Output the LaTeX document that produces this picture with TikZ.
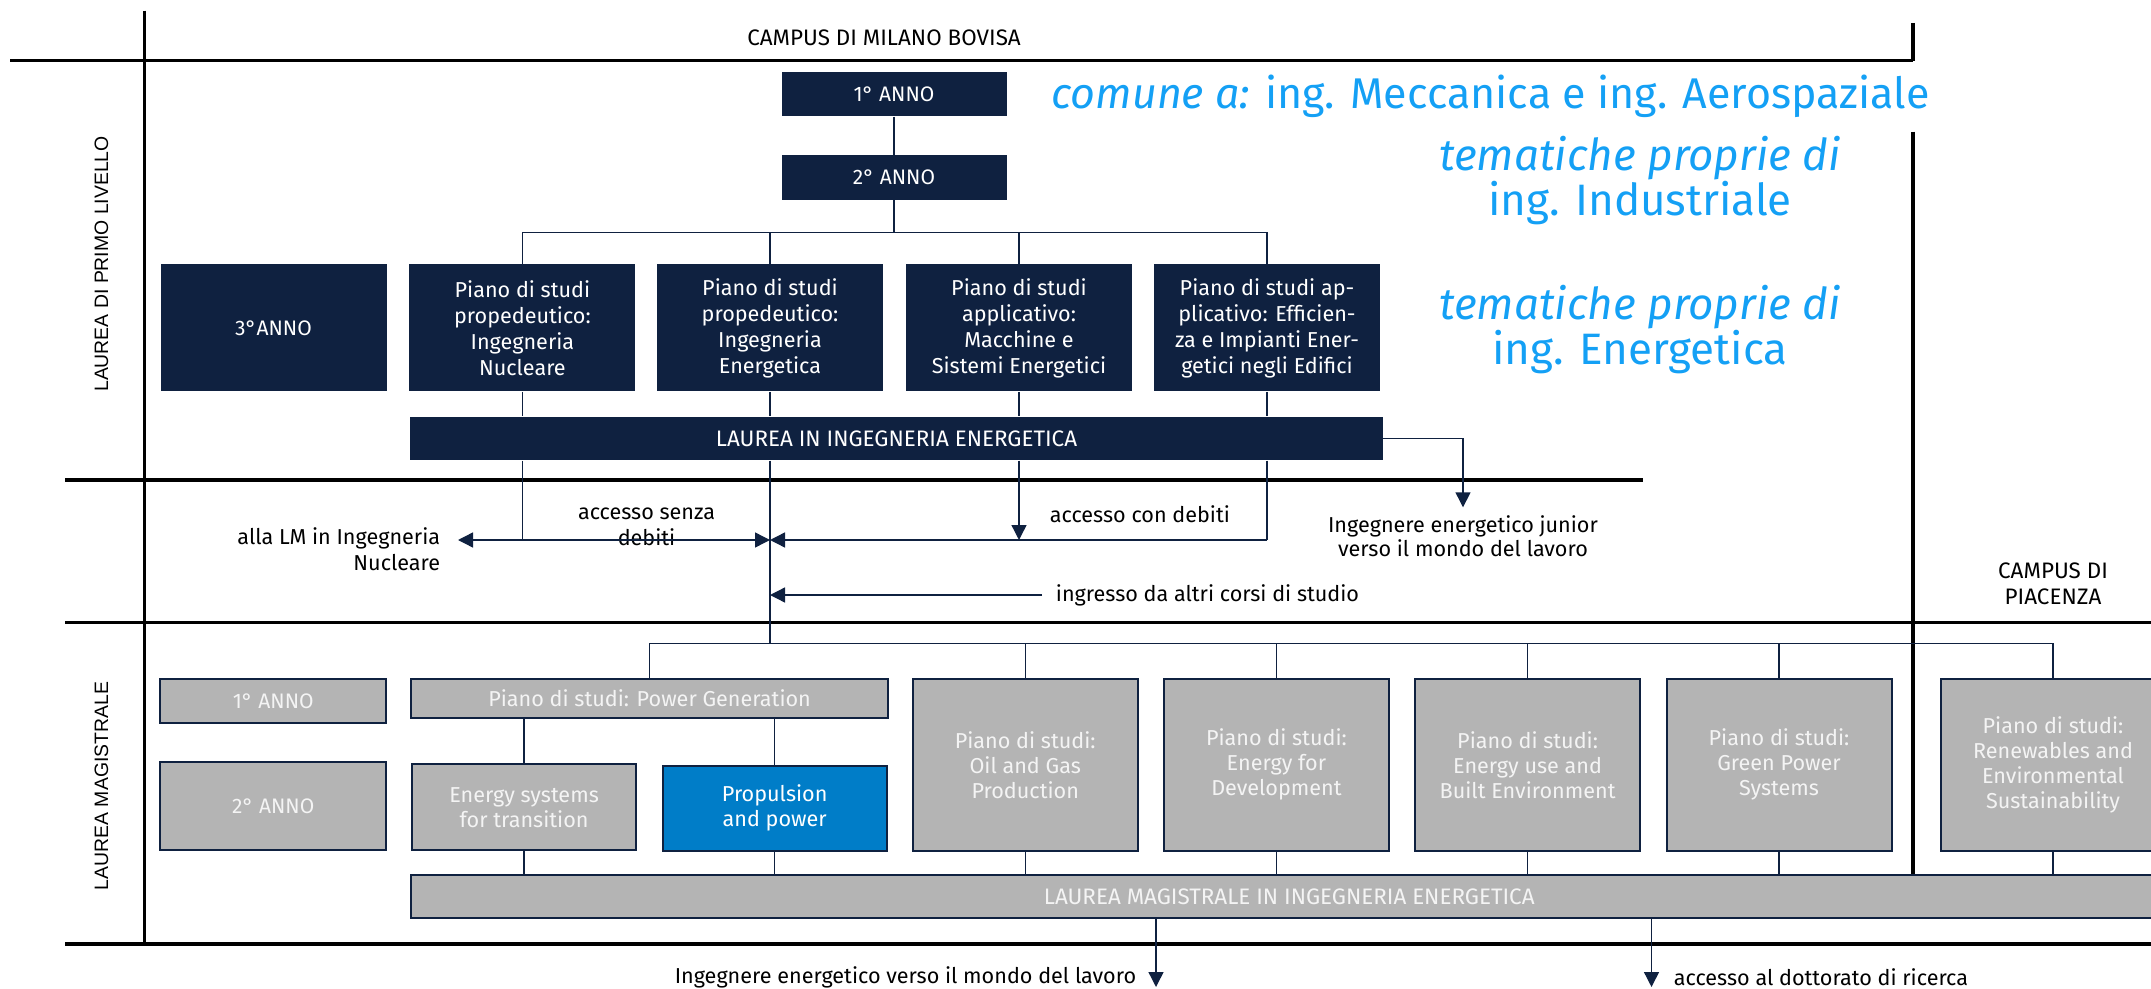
\documentclass[tikz,border=0pt]{standalone}
\usepackage{fontspec}
\setmainfont{Fira Sans}
\newfontfamily\sidefont{Liberation Sans}
\usetikzlibrary{arrows.meta}
\definecolor{navy}{RGB}{15,33,64}
\definecolor{boxgray}{RGB}{180,180,180}
\definecolor{propblue}{RGB}{0,125,200}
\definecolor{skyblue}{RGB}{20,160,245}
\definecolor{paletext}{RGB}{244,244,244}

\begin{document}
\begin{tikzpicture}[x=0.5pt,y=0.5pt,yscale=-1,xscale=1,
  navybox/.style={fill=navy,text=white,inner sep=0pt,align=center,font=\fontsize{10.8}{13}\selectfont},
  graybox/.style={fill=boxgray,draw=navy,line width=1pt,text=paletext,inner sep=0pt,align=center,font=\fontsize{10.8}{12.5}\selectfont},
  bluebox/.style={graybox,fill=propblue,text=white},
  trackbox/.style={navybox,minimum width=113pt,minimum height=63.5pt},
  lmbox/.style={graybox,minimum width=112.5pt,minimum height=85.8pt},
  caps/.style={font=\fontsize{11.2}{13}\selectfont},
  conn/.style={draw=navy,line width=0.7pt},
  arr/.style={conn,-{Triangle[length=7.5pt,width=7.5pt]}},
  divider/.style={draw=black,line width=1.6pt},
  lbl/.style={inner sep=0.75pt,font=\fontsize{10.8}{12.8}\selectfont},
  side/.style={inner sep=0pt,rotate=90,font=\sidefont\fontsize{9.7}{12}\selectfont},
  theme/.style={inner sep=0pt,text=skyblue,align=center,font=\fontsize{22}{22.5}\selectfont}
]
\clip (0,0) rectangle (2151,989);

%Straight Lines: dividers
\draw[divider] (10,60.7) -- (1913,60.7) ;
\draw[divider] (144.7,10.7) -- (144.7,944) ;
\draw[divider] (1913,23) -- (1913,60.7) ;
\draw[divider] (1913,131.7) -- (1913,875) ;
\draw[divider] (65,480) -- (1643,480) ;
\draw[divider] (65,622.3) -- (2151,622.3) ;
\draw[divider] (65,944) -- (2151,944) ;

% Text Node
\node[lbl,caps] (bovisa) at (884,37.5) {CAMPUS DI MILANO BOVISA};
\node[lbl,caps,align=center] (piacenza) at (2053,584) {CAMPUS DI\\PIACENZA};
\node[side] (primo) at (101.5,264) {LAUREA DI PRIMO LIVELLO};
\node[side] (magis) at (101.5,786) {LAUREA MAGISTRALE};

% Text Node: sky blue themes
\node[theme,anchor=east,font=\fontsize{21.5}{22}\selectfont] (comune) at (1930,96) {\textit{comune a:} ing. Meccanica e ing. Aerospaziale};
\node[theme] (industr) at (1640,180.5) {\textit{tematiche proprie di}\\ing. Industriale};
\node[theme] (energ) at (1640,330) {\textit{tematiche proprie di}\\ing. Energetica};

%Shape: Rectangle, laurea di primo livello
\node[navybox,font=\fontsize{10.5}{13}\selectfont,minimum width=112.5pt,minimum height=22.3pt] (anno1) at (894,94) {1° ANNO};
\node[navybox,font=\fontsize{10.5}{13}\selectfont,minimum width=112.5pt,minimum height=22.3pt] (anno2) at (894,177.7) {2° ANNO};
\node[trackbox,font=\fontsize{10.5}{13}\selectfont] (anno3) at (273.5,328) {3°ANNO};
\node[trackbox] (nuc) at (522.4,328) {Piano di studi\\propedeutico:\\Ingegneria\\Nucleare};
\node[trackbox] (ener) at (770,328) {Piano di studi\\propedeutico:\\Ingegneria\\Energetica};
\node[trackbox] (macch) at (1019,328) {Piano di studi\\applicativo:\\Macchine e\\Sistemi Energetici};
\node[trackbox] (effic) at (1267,328) {Piano di studi ap-\\plicativo: Efficien-\\za e Impianti Ener-\\getici negli Edifici};
\node[navybox,caps,minimum width=486.5pt,minimum height=21.8pt] (lie) at (896.5,438.5) {LAUREA IN INGEGNERIA ENERGETICA};

%Shape: Rectangle, laurea magistrale
\node[graybox,font=\fontsize{10.5}{13}\selectfont,minimum width=112.8pt,minimum height=21.8pt] (lm1) at (273.2,700.8) {1° ANNO};
\node[graybox,font=\fontsize{10.5}{13}\selectfont,minimum width=112.8pt,minimum height=43.7pt] (lm2) at (273.2,806) {2° ANNO};
\node[graybox,minimum width=238.2pt,minimum height=19.4pt] (pg) at (649.6,698.3) {Piano di studi: Power Generation};
\node[graybox,minimum width=112pt,minimum height=42.8pt] (es) at (524.1,807.2) {Energy systems\\for transition};
\node[bluebox,minimum width=111.8pt,minimum height=42.5pt] (prop) at (774.7,808.2) {Propulsion\\and power};
\node[lmbox] (oil) at (1025.2,764.8) {Piano di studi:\\Oil and Gas\\Production};
\node[lmbox] (efd) at (1276.4,764.8) {Piano di studi:\\Energy for\\Development};
\node[lmbox] (eu) at (1527.6,764.8) {Piano di studi:\\Energy use and\\Built Environment};
\node[lmbox] (gp) at (1779,764.8) {Piano di studi:\\Green Power\\Systems};
\node[lmbox] (ren) at (2053,764.8) {Piano di studi:\\Renewables and\\Environmental\\Sustainability};
\node[graybox,caps,minimum width=877.8pt,minimum height=21.2pt] (lmbar) at (1289.2,896.5) {LAUREA MAGISTRALE IN INGEGNERIA ENERGETICA};

% Text Node: exits and entries
\node[lbl,anchor=east,align=right] (allalm) at (442,549) {alla LM in Ingegneria\\Nucleare};
\node[lbl,align=center] (senza) at (646.5,527) {accesso senza\\debiti};
\node[lbl,anchor=west] (con) at (1048,514.3) {accesso con debiti};
\node[lbl,anchor=west] (ingr) at (1054,595) {ingresso da altri corsi di studio};
\node[lbl,align=center,font=\fontsize{10.8}{9}\selectfont] (junior) at (1463,536) {Ingegnere energetico junior\\verso il mondo del lavoro};
\node[lbl,anchor=east] (lavoro) at (1138,977) {Ingegnere energetico verso il mondo del lavoro};
\node[lbl,anchor=west] (dott) at (1672,977) {accesso al dottorato di ricerca};

\coordinate (split1) at (894,232.7);
\coordinate (acc) at (770,540);
\coordinate (lmtip) at (458,540);
\coordinate (ingrtail) at (1042,595);
\coordinate (jrtip) at (1463,507.3);
\coordinate (split2) at (770,643.3);
\coordinate (worktip) at (1156,987);
\coordinate (phdtip) at (1651.5,987);

%Straight Lines: primo livello
\draw[conn] (anno1.south) -- (anno2.north) ;
\draw[conn] (anno2.south) -- (split1) ;
\draw[conn] (nuc.north) -- (nuc.north |- split1) -- (effic.north |- split1) -- (effic.north) ;
\draw[conn] (ener.north) -- (ener.north |- split1) ;
\draw[conn] (macch.north) -- (macch.north |- split1) ;
\draw[conn] (nuc.south) -- (nuc.south |- lie.north) ;
\draw[conn] (ener.south) -- (ener.south |- lie.north) ;
\draw[conn] (macch.south) -- (macch.south |- lie.north) ;
\draw[conn] (effic.south) -- (effic.south |- lie.north) ;

%Straight Lines: accessi
\draw[conn] (lie.south -| nuc) -- (nuc |- acc) ;
\draw[arr] (nuc |- acc) -- (lmtip) ;
\draw[arr] (nuc |- acc) -- (acc) ;
\draw[arr] (lie.south -| macch) -- (macch |- acc) ;
\draw[conn] (lie.south -| effic) -- (effic |- acc) ;
\draw[arr] (effic |- acc) -- (acc) ;
\draw[arr] (ingrtail) -- (ingrtail -| acc) ;
\draw[arr] (lie.east) -| (jrtip) ;
\draw[conn] (lie.south -| ener) -- (split2) ;

%Straight Lines: laurea magistrale
\draw[conn] (pg.north |- split2) -- (ren.north |- split2) ;
\foreach \k in {pg,oil,efd,eu,gp,ren}
  \draw[conn] (\k.north |- split2) -- (\k.north) ;
\draw[conn] (pg.south -| es) -- (es.north) ;
\draw[conn] (pg.south -| prop) -- (prop.north) ;
\foreach \k in {es,prop,oil,efd,eu,gp,ren}
  \draw[conn] (\k.south) -- (\k.south |- lmbar.north) ;
\draw[arr] (lmbar.south -| worktip) -- (worktip) ;
\draw[arr] (lmbar.south -| phdtip) -- (phdtip) ;

\end{tikzpicture}
\end{document}
